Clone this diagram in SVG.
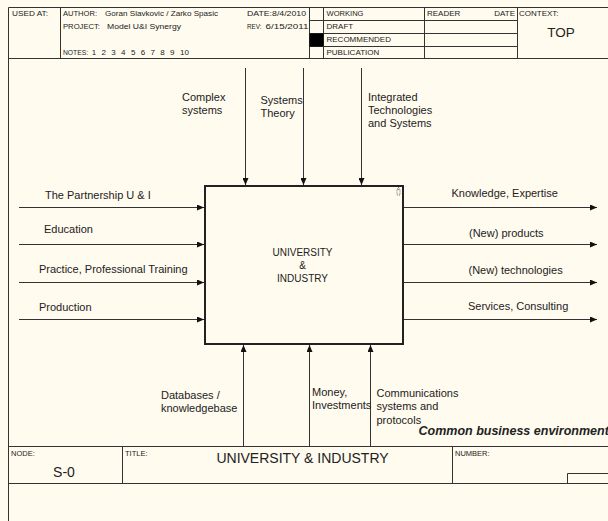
<svg xmlns="http://www.w3.org/2000/svg" width="608" height="521" viewBox="0 0 608 521">
<style>
  text { font-family: "Liberation Sans", Arial, sans-serif; fill: #222; }
  .hd { font-size: 8px; }
  .sm { font-size: 7.5px; }
  .lb { font-size: 11px; }
  .bx { font-size: 10px; }
  .big { font-size: 14px; }
  .frame { stroke: #333; stroke-width: 1; fill: none; }
  .arrow { stroke: #333; stroke-width: 1; fill: none; marker-end: url(#ah); }
</style>
<defs>
  <marker id="ah" markerUnits="userSpaceOnUse" markerWidth="8" markerHeight="6" refX="7" refY="3" orient="auto">
    <path d="M0,0 L7,3 L0,6 z" fill="#111"/>
  </marker>
</defs>
<rect x="0" y="0" width="608" height="521" fill="#fffbef"/>

<g id="frame">
  <path class="frame" d="M8.5,7.5 H608 M8.5,7.5 V521 M8.5,58.5 H608"/>
  <path class="frame" d="M60.5,7.5 V58.5 M309.5,7.5 V58.5 M323.5,7.5 V58.5 M424.5,7.5 V58.5 M517.5,7.5 V58.5"/>
  <path class="frame" d="M309.5,20.5 H517.5 M309.5,33.5 H517.5 M309.5,46.5 H517.5"/>
  <rect x="309.5" y="33.5" width="14" height="13" fill="#000"/>
  <path class="frame" d="M8.5,446.5 H608 M8.5,483.5 H608 M122.5,446.5 V483.5 M452.5,446.5 V483.5"/>
  <path class="frame" d="M608,473.5 H567.5 V483.5"/>
</g>

<g id="header-text">
  <text class="hd" x="12" y="16.2" textLength="36" lengthAdjust="spacingAndGlyphs">USED AT:</text>
  <text class="hd" x="63" y="16.2" textLength="34" lengthAdjust="spacingAndGlyphs">AUTHOR:</text>
  <text class="hd" x="105" y="16.2" textLength="113" lengthAdjust="spacingAndGlyphs">Goran Slavkovic / Zarko Spasic</text>
  <text class="hd" x="63" y="28.6" textLength="37" lengthAdjust="spacingAndGlyphs">PROJECT:</text>
  <text class="hd" x="107" y="28.6" textLength="74" lengthAdjust="spacingAndGlyphs">Model U&amp;I Synergy</text>
  <text class="hd" x="63" y="54.5" textLength="25" lengthAdjust="spacingAndGlyphs">NOTES:</text>
  <text class="hd" x="91.7 101.5 111.3 121.1 130.9 140.7 150.5 160.3 170.1 179.9 184.6" y="54.5">12345678910</text>
  <text class="hd" x="247" y="16.2" textLength="59" lengthAdjust="spacingAndGlyphs">DATE:8/4/2010</text>
  <text class="hd" x="247" y="28.6" textLength="14.5" lengthAdjust="spacingAndGlyphs">REV:</text>
  <text class="hd" x="265.5" y="28.6" textLength="43" lengthAdjust="spacingAndGlyphs">6/15/2011</text>
  <text class="hd" x="326.5" y="16.2" textLength="37" lengthAdjust="spacingAndGlyphs">WORKING</text>
  <text class="hd" x="326.5" y="28.8">DRAFT</text>
  <text class="hd" x="326.5" y="42.2">RECOMMENDED</text>
  <text class="hd" x="326.5" y="54.6">PUBLICATION</text>
  <text class="hd" x="427" y="16.2">READER</text>
  <text class="hd" x="515" y="16.2" text-anchor="end">DATE</text>
  <text class="hd" x="519" y="16.2">CONTEXT:</text>
  <text x="561" y="37" font-size="13.5" text-anchor="middle">TOP</text>
</g>

<g id="footer-text">
  <text class="sm" x="11" y="455.5">NODE:</text>
  <text class="sm" x="125" y="455.5">TITLE:</text>
  <text class="sm" x="455" y="455.5">NUMBER:</text>
  <text class="big" x="64" y="477" text-anchor="middle">S-0</text>
  <text class="big" x="302.5" y="462.5" text-anchor="middle">UNIVERSITY &amp; INDUSTRY</text>
</g>

<g id="connectors">
  <line class="arrow" x1="19" y1="207.5" x2="204" y2="207.5"/>
  <line class="arrow" x1="19" y1="244.5" x2="204" y2="244.5"/>
  <line class="arrow" x1="19" y1="282.5" x2="204" y2="282.5"/>
  <line class="arrow" x1="19" y1="319.5" x2="204" y2="319.5"/>
  <line class="arrow" x1="404" y1="207.5" x2="597" y2="207.5"/>
  <line class="arrow" x1="404" y1="244.5" x2="597" y2="244.5"/>
  <line class="arrow" x1="404" y1="282.5" x2="597" y2="282.5"/>
  <line class="arrow" x1="404" y1="319.5" x2="597" y2="319.5"/>
  <line class="arrow" x1="245.5" y1="68" x2="245.5" y2="185"/>
  <line class="arrow" x1="303.5" y1="68" x2="303.5" y2="185"/>
  <line class="arrow" x1="361.5" y1="68" x2="361.5" y2="185"/>
  <line class="arrow" x1="243.5" y1="446" x2="243.5" y2="345"/>
  <line class="arrow" x1="309.5" y1="446" x2="309.5" y2="345"/>
  <line class="arrow" x1="370.5" y1="446" x2="370.5" y2="345"/>
</g>

<g id="labels">
  <text class="lb" x="45" y="198.5">The Partnership U &amp; I</text>
  <text class="lb" x="44" y="232.5">Education</text>
  <text class="lb" x="39" y="273">Practice, Professional Training</text>
  <text class="lb" x="39" y="310.5">Production</text>
  <text class="lb" x="451.5" y="196.5">Knowledge, Expertise</text>
  <text class="lb" x="469" y="236.5">(New) products</text>
  <text class="lb" x="468.5" y="273.5">(New) technologies</text>
  <text class="lb" x="468" y="309.5">Services, Consulting</text>
  <text class="lb" x="182" y="100.5">Complex</text>
  <text class="lb" x="182" y="113.5">systems</text>
  <text class="lb" x="260.5" y="103.5">Systems</text>
  <text class="lb" x="260.5" y="116.5">Theory</text>
  <text class="lb" x="368" y="100.5">Integrated</text>
  <text class="lb" x="368" y="113.5">Technologies</text>
  <text class="lb" x="368" y="126.5">and Systems</text>
  <text class="lb" x="161" y="398.5">Databases /</text>
  <text class="lb" x="161" y="412">knowledgebase</text>
  <text class="lb" x="312" y="395.5">Money,</text>
  <text class="lb" x="312" y="409">Investments</text>
  <text class="lb" x="376.5" y="396.5">Communications</text>
  <text class="lb" x="376.5" y="410">systems and</text>
  <text class="lb" x="376.5" y="423.5">protocols</text>
  <text x="418.5" y="434.5" font-size="12.5" font-weight="bold" font-style="italic" fill="#111">Common business environment</text>
</g>

<g id="node-university-industry">
  <rect x="205" y="186" width="198" height="158" fill="none" stroke="#222" stroke-width="2"/>
  <path d="M397,189 h3 v6 h-3 z M398.5,187 v3" fill="none" stroke="#555" stroke-width="0.8" stroke-dasharray="1,0.8"/>
  <text class="bx" x="302.5" y="256.3" text-anchor="middle">UNIVERSITY</text>
  <text class="bx" x="302.5" y="269.3" text-anchor="middle">&amp;</text>
  <text class="bx" x="302.5" y="281.5" text-anchor="middle">INDUSTRY</text>
</g>
</svg>
